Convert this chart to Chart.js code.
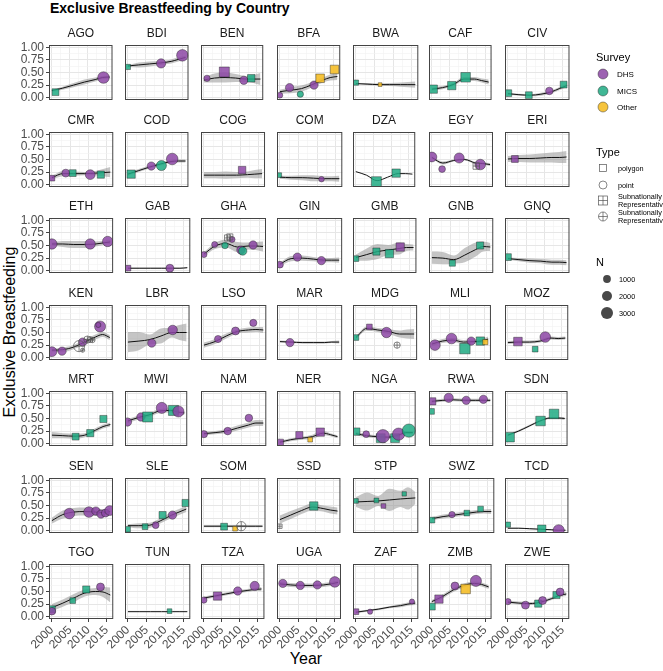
<!DOCTYPE html>
<html>
<head>
<meta charset="utf-8">
<script src="https://cdn.jsdelivr.net/npm/chart.js@4.4.1/dist/chart.umd.min.js"></script>
<style>
  body { margin: 0; background: #fff; width: 663px; height: 671px; position: relative; overflow: hidden;
         font-family: "Liberation Sans", Arial, sans-serif; }
  .panel { position: absolute; }
  #title { position: absolute; left: 50px; top: 0px; font-size: 14px; font-weight: bold; color: #000; }
  #ytitle { position: absolute; left: 10px; top: 332px; font-size: 16px; color: #000; white-space: nowrap;
            transform: translate(-50%, -50%) rotate(-90deg); }
  #xtitle { position: absolute; left: 306px; top: 659px; font-size: 16px; color: #000;
            transform: translate(-50%, -50%); }
  #legend { position: absolute; left: 560px; top: 0; }
</style>
</head>
<body>
<div id="title">Exclusive Breastfeeding by Country</div>
<div id="ytitle">Exclusive Breastfeeding</div>
<div id="xtitle">Year</div>
<div id="panels"></div>

<svg id="legend" width="103" height="340" font-family="Liberation Sans, Arial, sans-serif">
  <text x="36" y="61" font-size="11" fill="#000">Survey</text>
  <circle cx="43" cy="74" r="5" fill="rgba(140,70,165,0.85)" stroke="rgba(30,30,30,0.6)" stroke-width="0.7"/>
  <text x="57" y="77" font-size="8" fill="#000">DHS</text>
  <circle cx="43" cy="91" r="5" fill="rgba(30,170,130,0.85)" stroke="rgba(30,30,30,0.6)" stroke-width="0.7"/>
  <text x="57" y="94" font-size="8" fill="#000">MICS</text>
  <circle cx="43" cy="107" r="5" fill="rgba(245,190,40,0.9)" stroke="rgba(30,30,30,0.6)" stroke-width="0.7"/>
  <text x="57" y="110" font-size="8" fill="#000">Other</text>

  <text x="36" y="156" font-size="11" fill="#000">Type</text>
  <rect x="39.5" y="164.5" width="7" height="7" fill="none" stroke="#555" stroke-width="0.7"/>
  <text x="58" y="171" font-size="7.3" fill="#000">polygon</text>
  <circle cx="43" cy="185" r="4" fill="none" stroke="#555" stroke-width="0.7"/>
  <text x="58" y="188" font-size="7.3" fill="#000">point</text>
  <rect x="38.5" y="196" width="9" height="9" fill="none" stroke="#555" stroke-width="0.7"/>
  <line x1="43" y1="196" x2="43" y2="205" stroke="#555" stroke-width="0.7"/>
  <line x1="38.5" y1="200.5" x2="47.5" y2="200.5" stroke="#555" stroke-width="0.7"/>
  <text x="58" y="199" font-size="7.3" fill="#000">Subnationally</text>
  <text x="58" y="207" font-size="7.3" fill="#000"> Representative</text>
  <circle cx="43" cy="216.5" r="4.5" fill="none" stroke="#555" stroke-width="0.7"/>
  <line x1="43" y1="212" x2="43" y2="221" stroke="#555" stroke-width="0.7"/>
  <line x1="38.5" y1="216.5" x2="47.5" y2="216.5" stroke="#555" stroke-width="0.7"/>
  <text x="58" y="215" font-size="7.3" fill="#000">Subnationally</text>
  <text x="58" y="223" font-size="7.3" fill="#000"> Representative</text>

  <text x="36" y="266" font-size="11" fill="#000">N</text>
  <circle cx="47" cy="279" r="3.9" fill="rgba(40,40,40,0.85)"/>
  <text x="59" y="282" font-size="7.3" fill="#000">1000</text>
  <circle cx="47" cy="296" r="5" fill="rgba(40,40,40,0.85)"/>
  <text x="59" y="299" font-size="7.3" fill="#000">2000</text>
  <circle cx="47" cy="313" r="6" fill="rgba(40,40,40,0.85)"/>
  <text x="59" y="316" font-size="7.3" fill="#000">3000</text>
</svg>

<script>
// ---- data ---------------------------------------------------------------
const COUNTRIES = [
  'AGO','BDI','BEN','BFA','BWA','CAF','CIV',
  'CMR','COD','COG','COM','DZA','EGY','ERI',
  'ETH','GAB','GHA','GIN','GMB','GNB','GNQ',
  'KEN','LBR','LSO','MAR','MDG','MLI','MOZ',
  'MRT','MWI','NAM','NER','NGA','RWA','SDN',
  'SEN','SLE','SOM','SSD','STP','SWZ','TCD',
  'TGO','TUN','TZA','UGA','ZAF','ZMB','ZWE'
];

const X_TICKS = [2000, 2005, 2010, 2015];
const X_MINOR = [2002.5, 2007.5, 2012.5];
const Y_TICKS = [0, 0.25, 0.5, 0.75, 1];
const Y_MINOR = [0.125, 0.375, 0.625, 0.875];

// smoothed fit read at these years
const FIT_YEARS = [2000, 2003, 2006, 2009, 2012, 2014, 2016];

const FIT = [
  [.14,.19,.25,.31,.36,.40,.41], [.63,.65,.67,.69,.72,.76,.80], [.35,.39,.40,.39,.37,.37,.37],
  [.12,.15,.18,.26,.35,.40,.42], [.28,.27,.26,.26,.26,.26,.26], [.17,.20,.26,.37,.37,.34,.31],
  [.08,.06,.05,.07,.12,.18,.24],
  [.14,.22,.22,.22,.23,.24,.25], [.21,.28,.35,.41,.46,.47,.47], [.19,.19,.19,.19,.20,.21,.22],
  [.15,.14,.14,.13,.12,.12,.12], [.26,.19,.08,.15,.22,.22,.21], [.54,.43,.48,.50,.43,.42,.40],
  [.51,.52,.52,.53,.54,.54,.55],
  [.53,.53,.52,.52,.53,.55,.57], [.05,.05,.05,.05,.05,.05,.06], [.33,.49,.54,.47,.49,.49,.48],
  [.13,.24,.25,.23,.21,.21,.21], [.26,.32,.38,.41,.44,.46,.46], [.26,.25,.22,.31,.42,.48,.47],
  [.24,.22,.20,.19,.17,.17,.16],
  [.15,.16,.21,.31,.41,.46,.40], [.31,.33,.36,.43,.50,.50,.50], [.25,.32,.43,.52,.55,.56,.55],
  [.32,.31,.30,.30,.30,.31,.31], [.40,.58,.55,.52,.47,.47,.47], [.27,.33,.35,.31,.32,.33,.37],
  [.30,.31,.31,.33,.39,.38,.39],
  [.17,.16,.15,.17,.27,.34,.38], [.45,.52,.57,.65,.66,.63,.61], [.20,.22,.25,.31,.37,.41,.41],
  [.03,.08,.11,.14,.21,.18,.14], [.20,.16,.14,.13,.17,.22,.22], [.84,.86,.87,.86,.86,.86,.86],
  [.17,.25,.35,.45,.51,.51,.50],
  [.20,.32,.37,.38,.37,.36,.38], [.10,.10,.11,.20,.31,.37,.43], [.09,.09,.09,.09,.09,.09,.09],
  [.22,.31,.40,.47,.44,.41,.39], [.57,.58,.59,.61,.63,.64,.65], [.24,.28,.31,.34,.37,.38,.38],
  [.05,.05,.04,.03,.02,.01,.01],
  [.18,.27,.37,.47,.50,.49,.43], [.10,.10,.10,.10,.10,.10,.10], [.37,.41,.45,.49,.52,.54,.55],
  [.65,.63,.62,.62,.63,.65,.68], [.09,.12,.15,.19,.22,.25,.27], [.30,.40,.53,.62,.66,.64,.59],
  [.29,.27,.26,.29,.36,.42,.45]
];

// half width of the grey confidence band at FIT_YEARS
const BAND = [
  [.02,.03,.04,.05,.04,.03,.03], [.02,.05,.05,.04,.04,.04,.03], [.05,.09,.10,.08,.06,.08,.12],
  [.04,.06,.06,.05,.05,.06,.07], [.01,.02,.02,.03,.04,.05,.06], [.03,.03,.03,.04,.04,.04,.05],
  [.02,.02,.02,.03,.03,.03,.03],
  [.03,.05,.04,.03,.04,.07,.10], [.03,.03,.03,.03,.03,.03,.03], [.06,.06,.07,.06,.06,.08,.09],
  [.03,.04,.05,.06,.05,.05,.06], [0,0,0,0,0,0,0], [.02,.03,.02,.02,.02,.02,.03],
  [.06,.07,.08,.09,.10,.11,.12],
  [.03,.06,.07,.07,.05,.04,.04], [.01,.01,.01,.01,.01,.01,.01], [.04,.06,.08,.10,.07,.08,.10],
  [.03,.05,.05,.04,.04,.04,.05], [.06,.12,.15,.10,.12,.07,.06], [.12,.12,.08,.14,.14,.10,.08],
  [.02,.03,.04,.04,.05,.05,.05],
  [.03,.04,.04,.05,.05,.05,.05], [.20,.18,.10,.15,.10,.15,.18], [.05,.05,.05,.04,.05,.05,.06],
  [.02,.02,.02,.02,.02,.02,.03], [.03,.04,.04,.05,.07,.09,.10], [.04,.04,.04,.04,.04,.04,.05],
  [.03,.03,.03,.03,.03,.03,.03],
  [.06,.05,.05,.04,.04,.04,.04], [.04,.04,.04,.04,.04,.04,.04], [.03,.03,.04,.05,.05,.06,.06],
  [.03,.03,.03,.04,.04,.03,.03], [.03,.03,.03,.03,.03,.03,.03], [.03,.03,.03,.03,.03,.03,.03],
  [.02,.02,.02,.02,.02,.02,.03],
  [.06,.08,.08,.08,.08,.06,.07], [.03,.05,.05,.05,.06,.06,.06], [.02,.02,.02,.02,.02,.02,.02],
  [.08,.08,.07,.07,.06,.07,.07], [.10,.18,.10,.22,.16,.22,.12], [.03,.04,.04,.04,.04,.04,.05],
  [.01,.01,.01,.01,.01,.01,.01],
  [.07,.07,.08,.07,.07,.10,.15], [0,0,0,0,0,0,0], [.03,.03,.03,.03,.03,.03,.04],
  [.04,.04,.04,.04,.04,.04,.04], [.02,.02,.02,.02,.03,.03,.04], [.03,.04,.04,.04,.04,.04,.04],
  [.03,.03,.03,.03,.03,.03,.04]
];

// survey points: [year, share, survey, type, N]
// survey: D = DHS, M = MICS, O = Other, null = none
// type: sq = polygon, ci = point, ssq / sci = subnationally representative
const POINTS = [
  [[2001,.11,'M','sq',800],[2014.3,.40,'D','ci',2200]],
  [[2000,.61,'M','sq',400],[2009.2,.68,'D','ci',1300],[2015.1,.84,'D','ci',2200]],
  [[2000.9,.385,'D','ci',500],[2005.8,.51,'D','sq',2000],[2011.3,.345,'D','ci',1000],[2013.4,.385,'M','sq',1000]],
  [[2000,.05,'D','ci',400],[2002.7,.20,'D','ci',1000],[2005.7,.07,'M','ci',500],[2009.5,.25,'D','ci',1000],[2011.2,.385,'O','sq',1400],[2015.2,.56,'O','sq',1400]],
  [[2000,.30,'M','sq',400],[2006.5,.26,'O','sq',150]],
  [[2000.4,.17,'M','sq',1300],[2005.6,.24,'M','sq',1300],[2009.5,.405,'M','sq',1800]],
  [[2000.1,.09,'M','sq',800],[2005.7,.05,'M','sq',800],[2011.3,.135,'D','ci',800],[2015.2,.26,'M','sq',800]],

  [[2000,.13,'D','sq',500],[2003.8,.23,'D','ci',900],[2005.7,.23,'M','sq',800],[2010.5,.20,'D','ci',1500],[2013.4,.20,'M','sq',900]],
  [[2000.9,.21,'M','sq',1300],[2006.5,.37,'D','ci',1000],[2009.3,.38,'M','ci',1600],[2012.3,.51,'D','ci',2200]],
  [[2010.5,.29,'D','sq',1000]],
  [[1999.8,.19,'M','sq',300],[2011.2,.11,'D','ci',350]],
  [[2005.8,.06,'M','sq',2000],[2011.4,.23,'M','sq',1300]],
  [[2000,.55,'D','ci',1500],[2002.8,.31,'D','ci',600],[2007.5,.53,'D','ci',1600],[2013.3,.40,'D','ci',1800],[2012.2,.37,null,'ssq',700]],
  [[2001.9,.51,'D','sq',800]],

  [[2000,.53,'D','ci',1700],[2010.5,.53,'D','ci',1700],[2015.3,.58,'D','ci',1700]],
  [[2000,.05,'D','sq',500],[2011.3,.05,'D','ci',900]],
  [[2000,.32,'D','ci',450],[2002.9,.52,'D','ci',450],[2005.7,.50,'M','ci',550],[2007.6,.62,'D','ci',450],[2010,.41,'D','ci',1000],[2010.5,.39,'M','ci',1000],[2013.3,.51,'D','ci',1000],[2006.4,.65,null,'ssq',600],[2007,.67,null,'ssq',600]],
  [[2000,.12,'D','ci',600],[2004.7,.27,'D','ci',1000],[2011.2,.20,'D','ci',1000]],
  [[2000,.24,'M','sq',500],[2005.7,.38,'M','sq',900],[2009.3,.34,'M','sq',1300],[2012.3,.47,'D','sq',1300]],
  [[2005.6,.15,'M','sq',600],[2013.2,.50,'M','sq',900]],
  [[2000,.27,'M','sq',800]],

  [[2000,.12,'D','ci',1500],[2002.8,.13,'D','ci',1000],[2008.5,.31,'D','ci',1000],[2013.3,.62,'D','ci',2000],[2012.8,.65,'D','ci',300],[2007.5,.23,null,'sci',2000],[2009.8,.36,null,'sci',700],[2010.6,.36,null,'sci',400],[2011.2,.35,null,'sci',300],[2008.5,.15,null,'sci',150]],
  [[2006.5,.29,'D','ci',1000],[2012.2,.55,'D','ci',1400]],
  [[2003.8,.37,'D','ci',700],[2008.5,.53,'D','ci',900],[2013.3,.69,'D','ci',700]],
  [[2002.7,.30,'D','ci',1000]],
  [[2000,.40,'M','sq',500],[2003.7,.61,'D','sq',500],[2008.4,.50,'D','ci',1700],[2011.3,.25,null,'sci',500]],
  [[2000.9,.25,'D','ci',1800],[2005.6,.38,'D','ci',1800],[2009.4,.18,'M','sq',2200],[2011.2,.33,'D','ci',1000],[2013.8,.33,'M','sq',1300],[2015.2,.31,'O','sq',400]],
  [[2002.8,.32,'D','sq',1400],[2007.6,.17,'M','sq',500],[2010.4,.41,'D','ci',1800]],

  [[2006.5,.14,'M','sq',800],[2010.5,.21,'M','sq',900],[2014.1,.49,'M','sq',900]],
  [[1999.9,.43,'D','ci',1000],[2003.7,.53,'D','ci',1000],[2005.6,.53,'M','sq',2000],[2009.6,.71,'D','ci',2000],[2012.9,.66,'M','sq',2000],[2014.3,.64,'D','ci',2000]],
  [[2000,.19,'D','ci',700],[2006.4,.25,'D','ci',800],[2012.1,.51,'D','ci',800]],
  [[2000,.02,'D','sq',900],[2005.4,.17,'D','sq',900],[2008.4,.08,'O','sq',300],[2011.2,.23,'D','sq',1300]],
  [[2000.1,.24,'M','sq',1000],[2002.9,.19,'D','ci',600],[2007,.11,'M','sq',1500],[2011,.11,'M','sq',1500],[2007.6,.15,'D','ci',3000],[2012,.19,'D','ci',2500],[2014.9,.26,'M','ci',3000]],
  [[2000.1,.84,'D','sq',900],[1999.9,.64,'M','sq',500],[2004.6,.91,'D','ci',1300],[2009.4,.86,'D','ci',1000],[2014.1,.88,'D','ci',1000]],
  [[2000.5,.13,'M','sq',1800],[2009.2,.45,'M','sq',1800],[2013,.59,'M','sq',1800]],

  [[2004.8,.34,'D','ci',1800],[2010.2,.37,'D','ci',1800],[2012.1,.39,'D','ci',1000],[2013.5,.33,'D','ci',1000],[2014.7,.35,'D','ci',900],[2015.9,.40,'D','ci',1500]],
  [[1999.9,.03,'M','sq',500],[2004.7,.08,'M','sq',500],[2007.6,.11,'D','ci',600],[2009.5,.31,'M','sq',900],[2012.2,.31,'D','ci',1000],[2015.8,.55,'M','sq',900]],
  [[2005.5,.08,'M','sq',800],[2008.5,.04,'O','sq',300],[2010.2,.09,null,'sci',1300]],
  [[2009.4,.49,'M','sq',1300],[2000,.09,null,'ssq',250]],
  [[2000,.59,'M','sq',300],[2005.5,.60,'M','sq',300],[2007.4,.49,'D','sq',300],[2013,.73,'M','sq',250]],
  [[2000,.21,'M','sq',500],[2005.4,.32,'D','ci',500],[2009.4,.35,'M','sq',500],[2013.1,.43,'M','sq',500]],
  [[2000,.12,'M','sq',400],[2009.4,.03,'M','sq',1300],[2014.1,.01,'D','ci',2000]],

  [[2000,.15,'M','sq',800],[2000,.11,'D','ci',800],[2005.7,.32,'M','sq',500],[2009.4,.54,'M','sq',900],[2013.3,.59,'D','ci',900]],
  [[2011.2,.11,'M','sq',300]],
  [[2000,.33,'D','ci',500],[2003.8,.41,'D','sq',1300],[2009.4,.51,'D','ci',1000],[2014.1,.61,'D','ci',1300]],
  [[2000.8,.66,'D','ci',1000],[2005.6,.62,'D','ci',1000],[2010.3,.63,'D','ci',1000],[2015.1,.69,'D','ci',1800]],
  [[2000,.10,'D','sq',500],[2003.8,.10,'D','ci',300],[2015.1,.30,'D','ci',300]],
  [[2000,.20,'M','sq',800],[2002,.35,'D','sq',1300],[2006.5,.61,'D','ci',900],[2009.5,.55,'O','sq',1800],[2012.4,.71,'D','ci',2000]],
  [[2000,.30,'D','ci',500],[2004.8,.23,'D','ci',900],[2008.3,.26,'M','sq',900],[2009.5,.32,'D','ci',900],[2013.3,.43,'M','sq',900],[2014.3,.49,'D','ci',900]]
];

// ---- look ---------------------------------------------------------------
const FONT = '"Liberation Sans", Arial, sans-serif';
const SURVEY_FILL = { D: 'rgba(140,70,165,0.85)', M: 'rgba(30,170,130,0.85)', O: 'rgba(245,190,40,0.9)' };
const X_MIN = 1999.2, X_MAX = 2016.8, Y_MIN = -0.045, Y_MAX = 1.045;
const PANEL_W = 68, PANEL_H = 55, LEFT_GAP = 44, TOP_GAP = 19, BOTTOM_GAP = 40;

const sizeOf = n => 0.75 + 3.4 * Math.sqrt(n / 1000);
const isSquare = t => t === 'sq' || t === 'ssq';
const isSub = t => t === 'ssq' || t === 'sci';
const near = (v, list) => list.some(m => Math.abs(m - v) < 1e-6);

// point option helpers (context may be a dataset context without raw)
const ptStyle = c => (c.raw && isSquare(c.raw.t)) ? 'rect' : 'circle';
const ptRadius = c => {
    if (!c.raw) return 3;
    const r = sizeOf(c.raw.n);
    return isSquare(c.raw.t) ? r * 1.27 : r;
};
const ptFill = c => (c.raw && SURVEY_FILL[c.raw.s]) || 'rgba(0,0,0,0)';
const ptBorder = c => (c.raw && c.raw.s) ? 'rgba(30,30,30,0.6)' : '#555';
const crossRadius = c => {
    if (!c.raw) return 3;
    const r = sizeOf(c.raw.n);
    return isSquare(c.raw.t) ? r * 1.27 * Math.SQRT1_2 : r;
};

// theme_bw style closed border round every panel
const panelBorder = {
    id: 'panelBorder',
    afterDatasetsDraw(chart) {
        const {ctx, chartArea: a} = chart;
        ctx.save();
        ctx.strokeStyle = '#444';
        ctx.lineWidth = 1;
        ctx.strokeRect(a.left + 0.5, a.top + 0.5, a.width - 1, a.height - 1);
        ctx.restore();
    }
};

function gridOpts(majors, showTicks) {
    const isMajor = c => c.tick && near(c.tick.value, majors);
    return {
        color: c => isMajor(c) ? '#e6e6e6' : '#f2f2f2',
        lineWidth: c => isMajor(c) ? 1 : 0.6,
        drawTicks: showTicks,
        tickLength: 3,
        tickWidth: 1,
        tickColor: c => isMajor(c) ? '#444' : 'rgba(0,0,0,0)'
    };
}

const holder = document.getElementById('panels');

COUNTRIES.forEach((code, i) => {
    const col = i % 7, row = Math.floor(i / 7);
    const px = 49 + col * 76, py = 45 + row * 86.5;

    const box = document.createElement('div');
    box.className = 'panel';
    box.style.left = (px - LEFT_GAP) + 'px';
    box.style.top = (py - TOP_GAP) + 'px';
    const canvas = document.createElement('canvas');
    canvas.width = LEFT_GAP + PANEL_W + 2;
    canvas.height = TOP_GAP + PANEL_H + BOTTOM_GAP;
    box.appendChild(canvas);
    holder.appendChild(box);

    const fit = FIT[i], band = BAND[i];
    const fitLine = FIT_YEARS.map((x, k) => ({x, y: fit[k]}));
    const lower = FIT_YEARS.map((x, k) => ({x, y: fit[k] - band[k]}));
    const upper = FIT_YEARS.map((x, k) => ({x, y: fit[k] + band[k]}));
    const pts = POINTS[i].map(p => ({x: p[0], y: p[1], s: p[2], t: p[3], n: p[4]}));
    const subs = pts.filter(p => isSub(p.t));

    new Chart(canvas.getContext('2d'), {
        type: 'line',
        data: {
            datasets: [
                {data: lower, borderWidth: 0, pointRadius: 0, fill: false,
                 cubicInterpolationMode: 'monotone', order: 4},
                {data: upper, borderWidth: 0, pointRadius: 0, fill: '-1',
                 backgroundColor: 'rgba(150,150,150,0.55)', cubicInterpolationMode: 'monotone', order: 3},
                {data: fitLine, borderColor: '#111', borderWidth: 1, pointRadius: 0, fill: false,
                 cubicInterpolationMode: 'monotone', order: 2},
                {type: 'scatter', data: pts, clip: 0, order: 1,
                 pointStyle: ptStyle, pointRadius: ptRadius,
                 pointBackgroundColor: ptFill, pointBorderColor: ptBorder, pointBorderWidth: 0.7},
                {type: 'scatter', data: subs, clip: 0, order: 0,
                 pointStyle: 'cross', pointRadius: crossRadius,
                 pointBorderColor: '#555', pointBorderWidth: 0.7}
            ]
        },
        options: {
            responsive: false,
            animation: false,
            events: [],
            layout: {padding: {left: 0, right: 2, top: 0, bottom: 0}},
            plugins: {
                legend: {display: false},
                tooltip: {enabled: false},
                title: {
                    display: true, text: code, fullSize: false, color: '#1a1a1a',
                    font: {family: FONT, size: 12, weight: 'normal', lineHeight: 1.25},
                    padding: {top: 0, bottom: 4}
                }
            },
            scales: {
                x: {
                    type: 'linear', min: X_MIN, max: X_MAX,
                    afterBuildTicks: s => { s.ticks = X_TICKS.concat(X_MINOR).map(v => ({value: v})); },
                    afterFit: s => { s.height = BOTTOM_GAP; },
                    border: {display: false},
                    grid: gridOpts(X_TICKS, row === 6),
                    ticks: {
                        display: row === 6, autoSkip: false, minRotation: 45, maxRotation: 45, padding: 1,
                        color: '#4d4d4d', font: {family: FONT, size: 12},
                        callback: v => near(v, X_TICKS) ? String(v) : ''
                    }
                },
                y: {
                    type: 'linear', min: Y_MIN, max: Y_MAX,
                    afterBuildTicks: s => { s.ticks = Y_TICKS.concat(Y_MINOR).map(v => ({value: v})); },
                    afterFit: s => { s.width = LEFT_GAP; },
                    border: {display: false},
                    grid: gridOpts(Y_TICKS, col === 0),
                    ticks: {
                        display: col === 0, autoSkip: false, padding: 2,
                        color: '#4d4d4d', font: {family: FONT, size: 12},
                        callback: v => near(v, Y_TICKS) ? v.toFixed(2) : ''
                    }
                }
            }
        },
        plugins: [panelBorder]
    });
});
</script>
</body>
</html>
